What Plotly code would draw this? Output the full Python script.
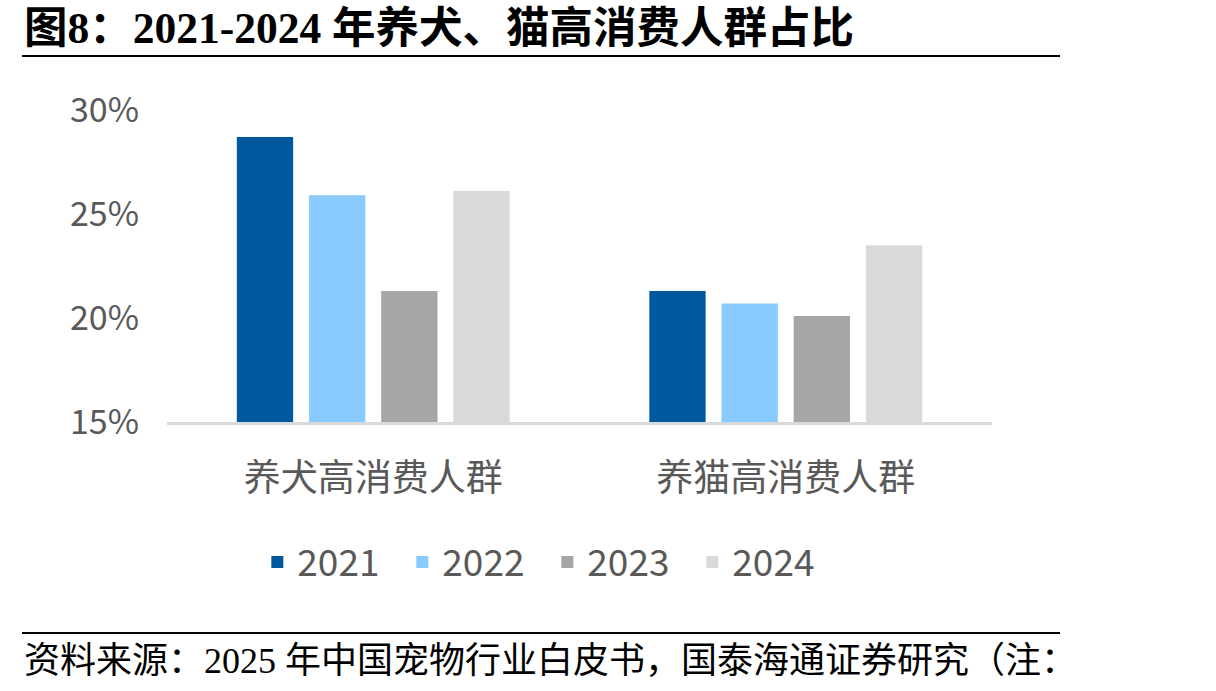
import plotly.graph_objects as go

categories = ["养犬高消费人群", "养猫高消费人群"]
years = ["2021", "2022", "2023", "2024"]
values_2021 = [28.7, 21.3]
values_2022 = [25.9, 20.7]
values_2023 = [21.3, 20.1]
values_2024 = [26.1, 23.5]
series = [values_2021, values_2022, values_2023, values_2024]
colors = ["#00599F", "#89CAFF", "#A6A6A6", "#D9D9D9"]
tick_vals = [15, 20, 25, 30]
tick_text = ["15%", "20%", "25%", "30%"]

W, H = 1216, 691
L, R, T, B = 167, 992, 110, 422

fig = go.Figure()
for y, vals, c in zip(years, series, colors):
    fig.add_trace(go.Bar(name=y, x=categories, y=vals, marker=dict(color=c, line=dict(width=0))))

sans = "Noto Sans CJK SC, Noto Sans, sans-serif"
serif = "Liberation Serif, Times New Roman, Noto Sans CJK SC, serif"

fig.update_layout(
    width=W, height=H,
    margin=dict(l=L, r=W - R, t=T, b=H - B, autoexpand=False),
    paper_bgcolor="white", plot_bgcolor="white",
    barmode="group", bargap=0.30, bargroupgap=0.22,
    showlegend=True,
    legend=dict(orientation="h", x=0.461, xanchor="center", y=-0.45, yanchor="middle",
                font=dict(family=sans, size=37, color="#595959"),
                traceorder="normal", itemwidth=30, entrywidth=100, entrywidthmode="pixels"),
    xaxis=dict(showline=True, linecolor="#D9D9D9", linewidth=3, ticks="",
               tickfont=dict(family=sans, size=37, color="#595959"), ticklabelstandoff=22),
    yaxis=dict(range=[15, 30], tickvals=tick_vals, ticktext=tick_text, showgrid=False,
               zeroline=False, showline=False, ticks="",
               tickfont=dict(family=sans, size=34, color="#595959"), ticklabelstandoff=27),
    shapes=[
        dict(type="line", xref="paper", yref="paper", x0=(22 - L) / (R - L), x1=(1060 - L) / (R - L),
             y0=(B - 56) / (B - T), y1=(B - 56) / (B - T), line=dict(color="black", width=2)),
        dict(type="line", xref="paper", yref="paper", x0=(22 - L) / (R - L), x1=(1060 - L) / (R - L),
             y0=(B - 633) / (B - T), y1=(B - 633) / (B - T), line=dict(color="black", width=2)),
    ],
    annotations=[
        dict(text="<b>图8：2021-2024 年养犬、猫高消费人群占比</b>", xref="paper", yref="paper",
             x=(22 - L) / (R - L), y=(B - 28) / (B - T), xanchor="left", yanchor="middle",
             showarrow=False, font=dict(family=serif, size=43.5, color="black")),
        dict(text="资料来源：2025 年中国宠物行业白皮书，国泰海通证券研究（注：", xref="paper", yref="paper",
             x=(22 - L) / (R - L), y=(B - 661) / (B - T), xanchor="left", yanchor="middle",
             showarrow=False, font=dict(family=serif, size=36, color="black")),
    ],
)

fig.write_html("out.html")
